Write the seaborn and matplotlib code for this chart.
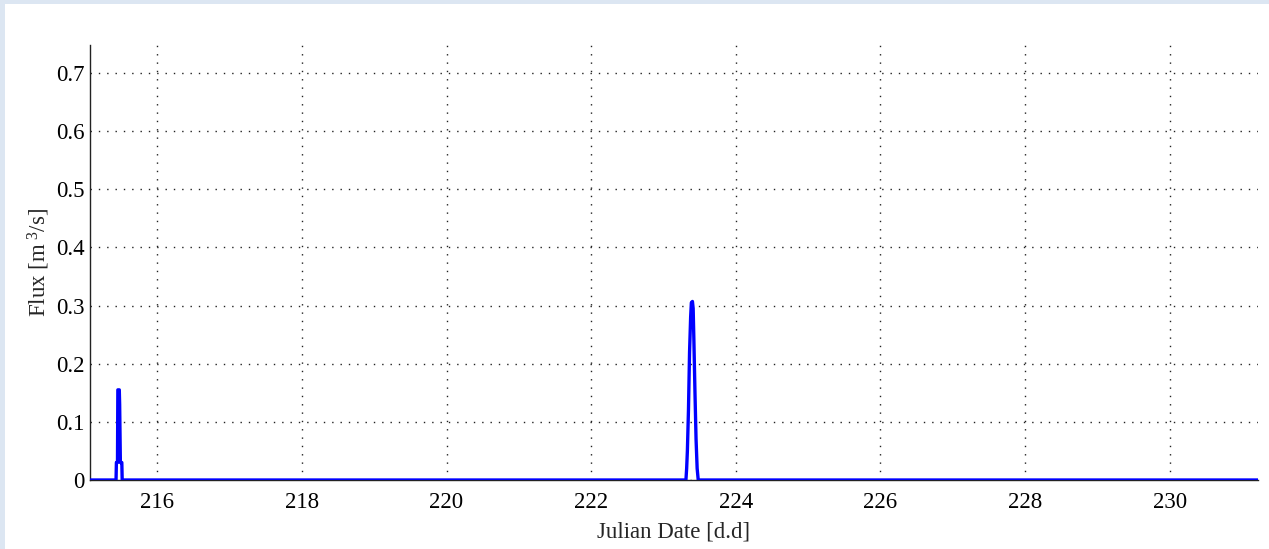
import matplotlib

matplotlib.use("Agg")
import matplotlib.pyplot as plt
import pandas as pd
import seaborn as sns
from matplotlib.patches import Rectangle

# Flux time series (zero outside the two events)
julian_date = [
    215.07, 215.430, 215.435, 215.450, 215.455, 215.475, 215.480, 215.490, 215.510, 215.515,
    223.310, 223.320, 223.330, 223.345, 223.360, 223.375, 223.385, 223.400, 223.410,
    223.420, 223.435, 223.450, 223.465, 223.480, 231.22,
]
flux = [
    0.0, 0.0, 0.03, 0.03, 0.155, 0.155, 0.13, 0.03, 0.03, 0.0,
    0.0, 0.02, 0.05, 0.12, 0.22, 0.28, 0.305, 0.307, 0.295,
    0.24, 0.15, 0.07, 0.02, 0.0, 0.0,
]
x_ticks = [216, 218, 220, 222, 224, 226, 228, 230]
y_ticks = [0, 0.1, 0.2, 0.3, 0.4, 0.5, 0.6, 0.7]
y_tick_labels = ["0", "0.1", "0.2", "0.3", "0.4", "0.5", "0.6", "0.7"]

df = pd.DataFrame({"julian_date": julian_date, "flux": flux})

sns.set_style("white")
plt.rcParams["font.family"] = ["Liberation Serif", "DejaVu Serif"]
plt.rcParams["mathtext.fontset"] = "custom"
plt.rcParams["mathtext.rm"] = "Liberation Serif"
plt.rcParams["mathtext.it"] = "Liberation Serif"

fig = plt.figure(figsize=(12.69, 5.49), dpi=100)
fig.patch.set_facecolor("#dce6f2")
fig.add_artist(
    Rectangle((5 / 1269, 0), 1, 1 - 4 / 549, transform=fig.transFigure,
              facecolor="white", edgecolor="none", zorder=-10)
)

ax = fig.add_axes([90 / 1269, 1 - 480 / 549, (1258 - 90) / 1269, (480 - 45) / 549])
ax.set_zorder(1)
ax.set_facecolor("white")

sns.lineplot(data=df, x="julian_date", y="flux", ax=ax, color="#0000ff",
             linewidth=2.4, estimator=None, sort=False, zorder=3)

ax.set_xlim(215.07, 231.22)
ax.set_ylim(0, 0.748)
ax.set_xticks(x_ticks)
ax.set_yticks(y_ticks)
ax.set_yticklabels(y_tick_labels)

ax.grid(True, linestyle=(0, (1, 5)), color="#222222", linewidth=1.0)
ax.tick_params(direction="in", length=8, width=1, colors="#222222",
               labelsize=16.5, labelcolor="black", pad=4)
ax.tick_params(axis="x", pad=9)

for side in ["top", "right"]:
    ax.spines[side].set_visible(False)
for side in ["left", "bottom"]:
    ax.spines[side].set_color("#222222")
    ax.spines[side].set_linewidth(1.0)

ax.set_xlabel("Julian Date [d.d]", fontsize=16.5, labelpad=6)
ax.set_ylabel(r"Flux [m$^{\ 3}$/s]", fontsize=16.5, labelpad=3)

fig.savefig("out.png", dpi=100, facecolor=fig.get_facecolor())
plt.close(fig)
